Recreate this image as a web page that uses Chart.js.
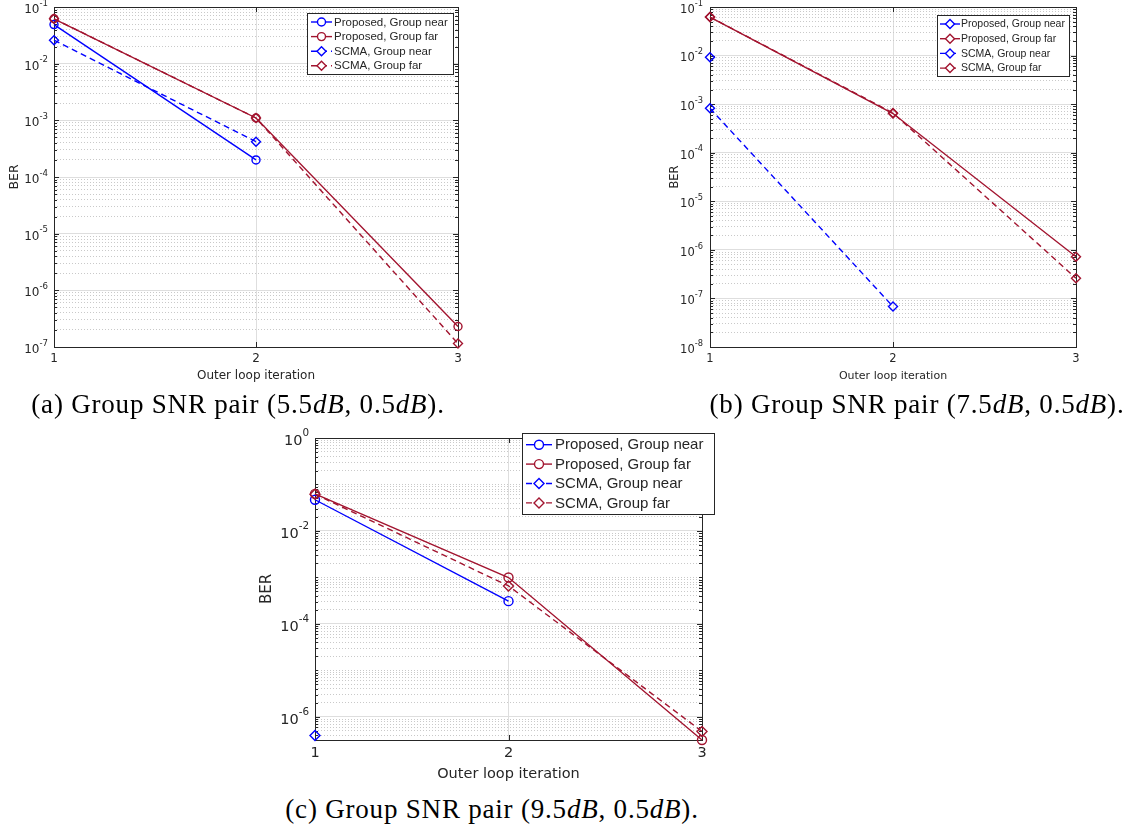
<!DOCTYPE html>
<html>
<head>
<meta charset="utf-8">
<title>BER vs outer loop iteration</title>
<script src="https://cdn.jsdelivr.net/npm/chart.js@4.4.1/dist/chart.umd.min.js"></script>
<style>
  body { margin: 0; background: #fff; width: 1137px; height: 829px; position: relative; overflow: hidden; }
  canvas { position: absolute; }
  .cap {
    position: absolute;
    font-family: "Liberation Serif", "DejaVu Serif", serif;
    font-size: 27px;
    letter-spacing: 0.8px;
    color: #000;
    white-space: nowrap;
    transform: translateX(-50%);
    line-height: 1;
  }
</style>
</head>
<body>
<canvas id="chartA" width="470" height="392" style="left:0;top:0"></canvas>
<canvas id="chartB" width="430" height="392" style="left:660px;top:0"></canvas>
<canvas id="chartC" width="480" height="360" style="left:240px;top:425px"></canvas>

<div class="cap" style="left:238px;top:391px">(a) Group SNR pair (5.5<i>dB</i>, 0.5<i>dB</i>).</div>
<div class="cap" style="left:917px;top:391px">(b) Group SNR pair (7.5<i>dB</i>, 0.5<i>dB</i>).</div>
<div class="cap" style="left:492px;top:796px">(c) Group SNR pair (9.5<i>dB</i>, 0.5<i>dB</i>).</div>

<script>
// x values shared by all three panels
const ITER = [1, 2, 3];
const SERIES_NAMES = [
  "Proposed, Group near",
  "Proposed, Group far",
  "SCMA, Group near",
  "SCMA, Group far",
];

// (a) SNR pair 5.5dB / 0.5dB
const A_PROP_NEAR = [0.049, 2.0e-4, null];
const A_PROP_FAR = [0.062, 1.1e-3, 2.3e-7];
const A_SCMA_NEAR = [0.026, 4.2e-4, null];
const A_SCMA_FAR = [0.062, 1.1e-3, 1.15e-7];
const A_YTICKS = [1e-7, 1e-6, 1e-5, 1e-4, 1e-3, 1e-2, 1e-1];

// (b) SNR pair 7.5dB / 0.5dB
const B_PROP_NEAR = [9.2e-3, null, null];
const B_PROP_FAR = [0.062, 6.4e-4, 7.2e-7];
const B_SCMA_NEAR = [8.2e-4, 6.8e-8, null];
const B_SCMA_FAR = [0.062, 6.6e-4, 2.6e-7];
const B_YTICKS = [1e-8, 1e-7, 1e-6, 1e-5, 1e-4, 1e-3, 1e-2, 1e-1];

// (c) SNR pair 9.5dB / 0.5dB
const C_PROP_NEAR = [0.047, 3.1e-4, null];
const C_PROP_FAR = [0.063, 1.0e-3, 3.2e-7];
const C_SCMA_NEAR = [4.0e-7, null, null];
const C_SCMA_FAR = [0.062, 6.6e-4, 4.9e-7];
const C_YTICKS = [1e-6, 1e-4, 1e-2, 1e0];
const C_YMIN = 3.2e-7;

const BLUE = "#0000ff";
const DARKRED = "#a2142f";
const TEXT = "#262626";
const GRID_MAJOR = "#dedede";
const GRID_MINOR = "#c9c9c9";
const SANS = "'Liberation Sans', Arial, sans-serif";
const AXIS_FONT = "'DejaVu Sans', sans-serif";

function sameValue(a, b) {
  return Math.abs(Math.log10(a) - Math.log10(b)) < 1e-6;
}

// 1..9 x 10^e between min and max (MATLAB style log grid)
function logTicks(min, max) {
  const out = [];
  for (let e = Math.floor(Math.log10(min)); e <= Math.ceil(Math.log10(max)); e++) {
    for (let k = 1; k <= 9; k++) {
      const v = k * Math.pow(10, e);
      if (v >= min * 0.999999 && v <= max * 1.000001) out.push(v);
    }
  }
  return out;
}

function toPoints(vals) {
  return ITER.map((x, i) => ({ x, y: vals[i] }));
}

function makeDataset(idx, vals, marker, radius) {
  const near = idx === 0 || idx === 2;
  const scma = idx >= 2;
  return {
    label: SERIES_NAMES[idx],
    data: toPoints(vals),
    borderColor: near ? BLUE : DARKRED,
    backgroundColor: "rgba(0,0,0,0)",
    borderWidth: 1.4,
    borderDash: scma ? [6, 4] : [],
    pointStyle: marker,
    pointRadius: radius,
    pointBorderWidth: 1.4,
    pointBackgroundColor: "rgba(0,0,0,0)",
    pointBorderColor: near ? BLUE : DARKRED,
    spanGaps: false,
    tension: 0,
    clip: false,
    order: 4 - idx,
  };
}

// axes box, inner tick marks, 10^n labels and MATLAB-like legend
const matlabFrame = {
  id: "matlabFrame",
  beforeDatasetsDraw(chart) {
    const { ctx, chartArea: a, scales } = chart;
    const opt = chart.options.plugins.matlabFrame;
    ctx.save();
    ctx.strokeStyle = TEXT;
    ctx.lineWidth = 1;
    ctx.beginPath();
    scales.y.ticks.forEach((t) => {
      const y = Math.round(scales.y.getPixelForValue(t.value)) + 0.5;
      const len = opt.yTicks.some((d) => sameValue(d, t.value)) ? 5 : 3;
      ctx.moveTo(a.left, y); ctx.lineTo(a.left + len, y);
      ctx.moveTo(a.right, y); ctx.lineTo(a.right - len, y);
    });
    scales.x.ticks.forEach((t) => {
      const x = Math.round(scales.x.getPixelForValue(t.value)) + 0.5;
      ctx.moveTo(x, a.bottom); ctx.lineTo(x, a.bottom - 5);
      ctx.moveTo(x, a.top); ctx.lineTo(x, a.top + 5);
    });
    ctx.stroke();
    ctx.strokeRect(Math.round(a.left) + 0.5, Math.round(a.top) + 0.5,
      Math.round(a.right - a.left), Math.round(a.bottom - a.top));
    ctx.restore();
  },
  afterDraw(chart) {
    const { ctx, chartArea: a, scales } = chart;
    const opt = chart.options.plugins.matlabFrame;

    // y tick labels as 10 with a raised exponent
    ctx.save();
    ctx.fillStyle = TEXT;
    ctx.textBaseline = "middle";
    ctx.textAlign = "right";
    const f = opt.tickFont;
    opt.yTicks.forEach((v) => {
      const y = scales.y.getPixelForValue(v);
      const xr = a.left - opt.labelPad;
      const exp = String(Math.round(Math.log10(v)));
      ctx.font = (f * 0.72).toFixed(1) + "px " + AXIS_FONT;
      const ew = ctx.measureText(exp).width;
      ctx.fillText(exp, xr, y - f * 0.3);
      ctx.font = f + "px " + AXIS_FONT;
      ctx.fillText("10", xr - ew, y + f * 0.25);
    });
    ctx.restore();

    const L = opt.legend;
    ctx.save();
    ctx.fillStyle = "#fff";
    ctx.fillRect(L.x, L.y, L.w, L.h);
    ctx.strokeStyle = TEXT;
    ctx.lineWidth = 1;
    ctx.strokeRect(L.x + 0.5, L.y + 0.5, L.w, L.h);
    chart.data.datasets.forEach((ds, i) => {
      const y = L.y + L.first + i * L.row;
      ctx.strokeStyle = ds.borderColor;
      ctx.lineWidth = ds.borderWidth;
      ctx.setLineDash(ds.borderDash);
      ctx.beginPath();
      ctx.moveTo(L.x + L.l0, y);
      ctx.lineTo(L.x + L.l1, y);
      ctx.stroke();
      ctx.setLineDash([]);
      ctx.fillStyle = "#fff";
      Chart.helpers.drawPoint(ctx, {
        pointStyle: ds.pointStyle, radius: ds.pointRadius,
        borderWidth: ds.pointBorderWidth, rotation: 0,
      }, L.x + (L.l0 + L.l1) / 2, y);
      ctx.fillStyle = TEXT;
      ctx.font = L.font + "px " + SANS;
      ctx.textBaseline = "middle";
      ctx.textAlign = "left";
      ctx.fillText(ds.label, L.x + L.tx, y + 0.5);
    });
    ctx.restore();
  },
};

function makePanel(id, p) {
  const isDecade = (v) => p.yTicks.some((d) => sameValue(d, v));
  return new Chart(document.getElementById(id), {
    type: "line",
    data: { datasets: p.datasets },
    plugins: [matlabFrame],
    options: {
      responsive: false,
      animation: false,
      devicePixelRatio: 1,
      layout: { padding: p.pad },
      plugins: {
        legend: { display: false },
        tooltip: { enabled: false },
        matlabFrame: { yTicks: p.yTicks, legend: p.legend, tickFont: p.tickFont, labelPad: p.yTickPad },
      },
      scales: {
        x: {
          type: "linear",
          min: 1,
          max: 3,
          afterBuildTicks: (s) => { s.ticks = ITER.map((v) => ({ value: v })); },
          afterFit: (s) => { s.height = p.xAxisH; },
          ticks: {
            padding: p.xTickPad,
            color: TEXT,
            font: { family: AXIS_FONT, size: p.tickFont },
            callback: (v) => String(v),
          },
          grid: { drawTicks: false, color: GRID_MAJOR, lineWidth: 1 },
          border: { display: false },
          title: {
            display: true,
            text: "Outer loop iteration",
            color: TEXT,
            font: { family: AXIS_FONT, size: p.titleFont },
            padding: { top: 0, bottom: p.xTitlePad },
          },
        },
        y: {
          type: "logarithmic",
          min: p.yMin,
          max: p.yMax,
          afterBuildTicks: (s) => { s.ticks = logTicks(p.yMin, p.yMax).map((v) => ({ value: v })); },
          afterFit: (s) => { s.width = p.yAxisW; },
          ticks: { display: false },
          grid: {
            drawTicks: false,
            lineWidth: 1,
            color: (c) => (c.tick && isDecade(c.tick.value) ? GRID_MAJOR : GRID_MINOR),
          },
          border: {
            display: false,
            dash: (c) => (c.tick && !isDecade(c.tick.value) ? [1, 2] : []),
          },
          title: {
            display: true,
            text: "BER",
            color: TEXT,
            font: { family: AXIS_FONT, size: p.titleFont + 0.5 },
            padding: { top: p.yTitlePad, bottom: 0 },
          },
        },
      },
    },
  });
}

makePanel("chartA", {
  datasets: [
    makeDataset(0, A_PROP_NEAR, "circle", 4),
    makeDataset(1, A_PROP_FAR, "circle", 4),
    makeDataset(2, A_SCMA_NEAR, "rectRot", 4.5),
    makeDataset(3, A_SCMA_FAR, "rectRot", 4.5),
  ],
  yMin: 1e-7, yMax: 1e-1, yTicks: A_YTICKS,
  pad: { left: 0, top: 7, right: 12, bottom: 0 },
  yAxisW: 54, xAxisH: 45,
  tickFont: 12, titleFont: 12,
  xTickPad: 5, yTickPad: 6, xTitlePad: 9, yTitlePad: 7,
  legend: { x: 307, y: 13, w: 146, h: 61, first: 9, row: 14.6, l0: 4, l1: 25, tx: 27, font: 11.5 },
});

makePanel("chartB", {
  datasets: [
    makeDataset(0, B_PROP_NEAR, "rectRot", 4.5),
    makeDataset(1, B_PROP_FAR, "rectRot", 4.5),
    makeDataset(2, B_SCMA_NEAR, "rectRot", 4.5),
    makeDataset(3, B_SCMA_FAR, "rectRot", 4.5),
  ],
  yMin: 1e-8, yMax: 1e-1, yTicks: B_YTICKS,
  pad: { left: 0, top: 7, right: 14, bottom: 0 },
  yAxisW: 50, xAxisH: 45,
  tickFont: 11.5, titleFont: 11,
  xTickPad: 5, yTickPad: 7, xTitlePad: 9, yTitlePad: 8,
  legend: { x: 277, y: 15, w: 132, h: 61, first: 9, row: 14.7, l0: 3, l1: 23, tx: 24, font: 10.5 },
});

makePanel("chartC", {
  datasets: [
    makeDataset(0, C_PROP_NEAR, "circle", 4.5),
    makeDataset(1, C_PROP_FAR, "circle", 4.5),
    makeDataset(2, C_SCMA_NEAR, "rectRot", 5),
    makeDataset(3, C_SCMA_FAR, "rectRot", 5),
  ],
  yMin: C_YMIN, yMax: 1e0, yTicks: C_YTICKS,
  pad: { left: 0, top: 13, right: 18, bottom: 0 },
  yAxisW: 75, xAxisH: 45,
  tickFont: 14.5, titleFont: 14.5,
  xTickPad: 5, yTickPad: 6, xTitlePad: 2, yTitlePad: 18,
  legend: { x: 282, y: 8, w: 192, h: 81, first: 11.7, row: 19.4, l0: 4, l1: 30, tx: 33, font: 15 },
});
</script>
</body>
</html>
